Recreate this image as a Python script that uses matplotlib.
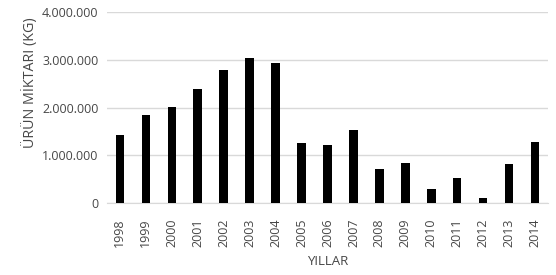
import matplotlib.pyplot as plt
from matplotlib.ticker import FuncFormatter

years = ['1998', '1999', '2000', '2001', '2002', '2003', '2004', '2005', '2006',
         '2007', '2008', '2009', '2010', '2011', '2012', '2013', '2014']
amounts = [1435000, 1850000, 2010000, 2390000, 2790000, 3030000, 2930000, 1255000,
           1210000, 1520000, 710000, 850000, 300000, 520000, 100000, 820000, 1275000]
yticks = [0, 1000000, 2000000, 3000000, 4000000]

plt.rcParams['font.family'] = ['Open Sans', 'DejaVu Sans']

fig = plt.figure(figsize=(5.56, 2.75), dpi=100)
ax = fig.add_axes([0.192, 0.261, 0.794, 0.696])

ax.bar(years, amounts, width=0.32, color='black', zorder=3)

ax.set_ylim(0, 4000000)
ax.set_xlim(-0.5, len(years) - 0.5)
ax.set_yticks(yticks)
ax.yaxis.set_major_formatter(FuncFormatter(lambda v, p: f'{int(v):,}'.replace(',', '.')))
ax.grid(axis='y', color='#d9d9d9', linewidth=1, zorder=0)

for s in ['top', 'right', 'left']:
    ax.spines[s].set_visible(False)
ax.spines['bottom'].set_color('#d9d9d9')

ax.tick_params(axis='both', length=0, labelsize=9, colors='#474747', pad=6)
ax.tick_params(axis='x', rotation=90, pad=11)

ax.set_ylabel('ÜRÜN MİKTARI (KG)', fontsize=10.3, color='#474747', labelpad=6)
ax.yaxis.set_label_coords(-0.155, 0.63)
ax.set_xlabel('YILLAR', fontsize=9.5, color='#474747', labelpad=6)

fig.savefig('out.png', dpi=100)
